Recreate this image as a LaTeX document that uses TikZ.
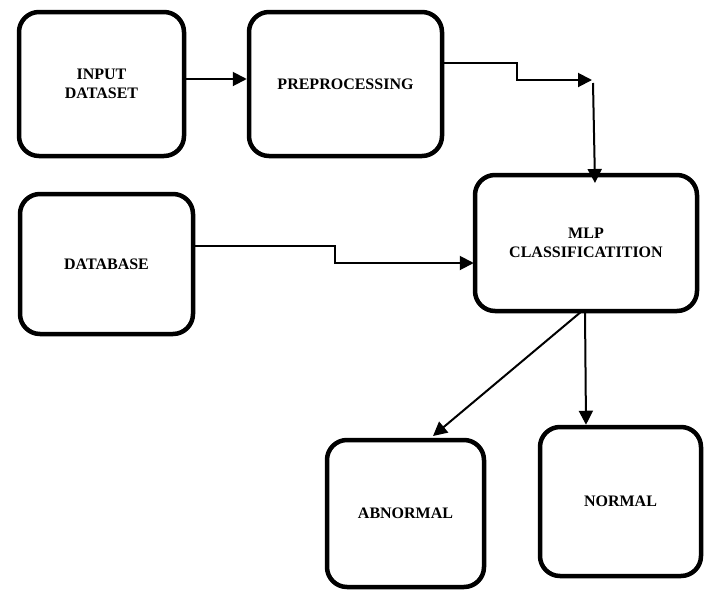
\documentclass[tikz,border=0pt]{standalone}
\usepackage{fontspec}
\setmainfont{Liberation Serif}
\usetikzlibrary{arrows.meta}
\begin{document}
\begin{tikzpicture}[x=1pt,y=-1pt,
  blk/.style={draw=black,line width=4.5pt,rounded corners=20pt,fill=white,
    align=center,font=\fontsize{16}{18.5}\selectfont\bfseries,inner sep=0pt},
  arr/.style={draw=black,line width=2pt,-{Triangle[length=14pt,width=14pt]}},
  ln/.style={draw=black,line width=2pt}]
\useasboundingbox[fill=white] (0,0) rectangle (710,590);
\node[blk,minimum width=165pt,minimum height=144pt] (inp) at (101.5,84) {INPUT\\DATASET};
\node[blk,minimum width=193pt,minimum height=144pt] (pre) at (345.5,84) {PREPROCESSING};
\node[blk,minimum width=173pt,minimum height=140pt] (db) at (106.5,264) {DATABASE};
\node[blk,minimum width=222pt,minimum height=136pt] (mlp) at (586,243) {MLP\\CLASSIFICATITION};
\node[blk,minimum width=157pt,minimum height=147pt] (abn) at (405.5,513.5) {ABNORMAL};
\node[blk,minimum width=161pt,minimum height=149pt] (nor) at (620.5,501.5) {NORMAL};
\coordinate (c1) at (592,80);
\coordinate (c2) at (593,83);
\coordinate (c3) at (595,183);
\coordinate (m1) at (582,311);
\coordinate (m2) at (585,311);
% connectors
\draw[arr] (inp.east |- 0,79) -- (pre.west |- 0,79);
\draw[arr] (pre.east |- 0,63) -- (517,63) -- (517,80) -- (c1);
\draw[arr] (c2) -- (c3);
\draw[arr] (db.east |- 0,246) -- (335,246) -- (335,263) -- ([xshift=1pt]mlp.west |- 0,263);
\draw[arr] (m1) -- (433,436) coordinate (t1);
\draw[arr] (m2) -- (nor.north -| 586,0);
\end{tikzpicture}
\end{document}
